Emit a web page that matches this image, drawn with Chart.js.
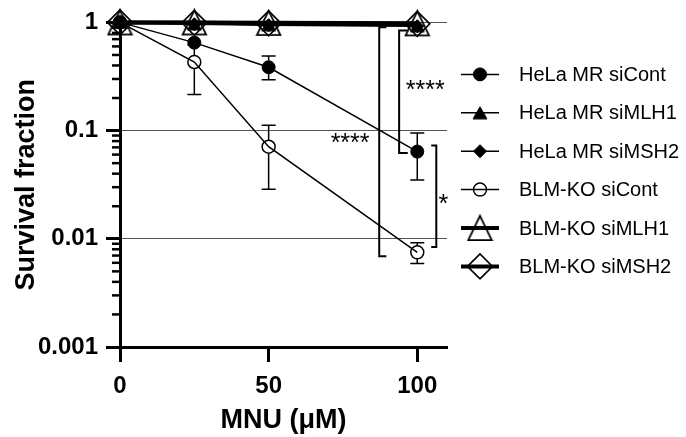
<!DOCTYPE html>
<html>
<head>
<meta charset="utf-8">
<script src="https://cdn.jsdelivr.net/npm/chart.js@4.4.0/dist/chart.umd.min.js"></script>
<style>
  html, body { margin: 0; padding: 0; background: #fff; }
</style>
</head>
<body>
<canvas id="chart" width="686" height="437"></canvas>
<script>
// MNU dose (uM)
var doses = [0, 25, 50, 100];

var seriesNames = ['HeLa MR siCont', 'HeLa MR siMLH1', 'HeLa MR siMSH2',
                   'BLM-KO siCont', 'BLM-KO siMLH1', 'BLM-KO siMSH2'];

// survival fraction
var helaCont = [1, 0.65, 0.385, 0.064];
var helaMLH1 = [1, 0.97, 0.95, 0.93];
var helaMSH2 = [1, 0.96, 0.94, 0.92];
var blmCont  = [1, 0.43, 0.071, 0.0075];
var blmMLH1  = [1, 1.0, 0.99, 0.98];
var blmMSH2  = [1, 0.99, 0.98, 0.97];

// error bars (upper / lower), null = no bar
var helaContHi = [null, 0.69, 0.49, 0.095];
var helaContLo = [null, 0.61, 0.295, 0.035];
var blmContHi  = [null, 0.62, 0.112, 0.0092];
var blmContLo  = [null, 0.216, 0.0287, 0.0059];

var xTicks = [0, 50, 100];
var yTicks = [0.001, 0.01, 0.1, 1];
var yTickLabels = ['0.001', '0.01', '0.1', '1'];
var yMinor = [2, 3, 4, 5, 6, 7, 8, 9];

// significance brackets, in data units (bar x, end x, top y, bottom y)
var brackets = [
  { x: 87.2, end: 89.6, top: 0.90, bottom: 0.0069 },
  { x: 93.9, end: 96.8, top: 0.84, bottom: 0.062 },
  { x: 106.4, end: 104.7, top: 0.073, bottom: 0.0084 }
];
var sigLabels = [
  { text: '****', x: 77.4, y: 0.0886 },
  { text: '****', x: 102.7, y: 0.27 },
  { text: '*', x: 108.8, y: 0.0242 }
];

var FONT = '"Liberation Sans", Arial, sans-serif';
Chart.defaults.font.family = FONT;
Chart.defaults.color = '#000';

// triangle marker centred on its box (like the original software)
function triSprite(w, h, fill, lw) {
  var c = document.createElement('canvas');
  c.width = Math.ceil(w + lw * 2);
  c.height = Math.ceil(h + lw * 2);
  var g = c.getContext('2d');
  g.beginPath();
  g.moveTo(c.width / 2, lw);
  g.lineTo(c.width - lw, c.height - lw);
  g.lineTo(lw, c.height - lw);
  g.closePath();
  if (fill) { g.fillStyle = '#000'; g.fill(); }
  g.lineWidth = lw;
  g.strokeStyle = '#000';
  g.stroke();
  return c;
}

function series(name, vals, style, radius, fill, lineW, pointW) {
  return {
    label: name,
    data: doses.map(function (d, i) { return { x: d, y: vals[i] }; }),
    borderColor: '#000',
    borderWidth: lineW,
    pointStyle: style,
    pointRadius: radius,
    pointBackgroundColor: fill ? '#000' : 'rgba(0,0,0,0)',
    pointBorderColor: '#000',
    pointBorderWidth: pointW,
    tension: 0,
    clip: false
  };
}

var datasets = [
  series(seriesNames[0], helaCont, 'circle', 6.5, true, 1.5, 1),
  series(seriesNames[1], helaMLH1, triSprite(14, 12, true, 1), 7, true, 1.5, 1),
  series(seriesNames[2], helaMSH2, 'rectRot', 6.5, true, 1.5, 1),
  series(seriesNames[3], blmCont, 'circle', 6.5, false, 1.5, 1.5),
  series(seriesNames[4], blmMLH1, triSprite(23, 24, false, 1.8), 12, false, 4, 1.8),
  series(seriesNames[5], blmMSH2, 'rectRot', 12.5, false, 4, 1.6)
];

var errorBars = [
  { ds: 0, hi: helaContHi, lo: helaContLo },
  { ds: 3, hi: blmContHi, lo: blmContLo }
];

var errorPlugin = {
  id: 'errors',
  beforeDatasetsDraw: function (chart) {
    var ctx = chart.ctx, xs = chart.scales.x, ys = chart.scales.y;
    ctx.save();
    ctx.strokeStyle = '#000';
    ctx.lineWidth = 1.5;
    errorBars.forEach(function (e) {
      var r = chart.data.datasets[e.ds].pointRadius;
      doses.forEach(function (d, i) {
        if (e.hi[i] == null) return;
        var px = xs.getPixelForValue(d);
        var py = ys.getPixelForValue(chart.data.datasets[e.ds].data[i].y);
        var pHi = ys.getPixelForValue(e.hi[i]);
        var pLo = ys.getPixelForValue(e.lo[i]);
        ctx.beginPath();
        if (pHi < py - r) { ctx.moveTo(px, pHi); ctx.lineTo(px, py - r); ctx.moveTo(px - 7, pHi); ctx.lineTo(px + 7, pHi); }
        if (pLo > py + r) { ctx.moveTo(px, py + r); ctx.lineTo(px, pLo); ctx.moveTo(px - 7, pLo); ctx.lineTo(px + 7, pLo); }
        ctx.stroke();
      });
    });
    ctx.restore();
  }
};

var decorPlugin = {
  id: 'decor',
  afterDraw: function (chart) {
    var ctx = chart.ctx, xs = chart.scales.x, ys = chart.scales.y, area = chart.chartArea;
    ctx.save();

    // minor log ticks
    ctx.strokeStyle = '#000';
    ctx.lineWidth = 2.5;
    yTicks.slice(0, -1).forEach(function (dec) {
      yMinor.forEach(function (m) {
        var py = ys.getPixelForValue(dec * m);
        ctx.beginPath();
        ctx.moveTo(area.left - 8, py);
        ctx.lineTo(area.left, py);
        ctx.stroke();
      });
    });

    // brackets
    ctx.lineWidth = 2;
    ctx.lineJoin = 'miter';
    brackets.forEach(function (b) {
      var x0 = xs.getPixelForValue(b.x), x1 = xs.getPixelForValue(b.end);
      var y0 = ys.getPixelForValue(b.top), y1 = ys.getPixelForValue(b.bottom);
      ctx.beginPath();
      ctx.moveTo(x1, y0);
      ctx.lineTo(x0, y0);
      ctx.lineTo(x0, y1);
      ctx.lineTo(x1, y1);
      ctx.stroke();
    });

    // asterisks
    var size = 25;
    ctx.fillStyle = '#000';
    ctx.font = size + 'px ' + FONT;
    ctx.textAlign = 'center';
    ctx.textBaseline = 'alphabetic';
    sigLabels.forEach(function (s) {
      ctx.fillText(s.text, xs.getPixelForValue(s.x), ys.getPixelForValue(s.y) + size * 0.57);
    });

    // legend
    var lx = area.right + 14, lw = 38, rowY = area.top + 52, step = 38.4;
    ctx.font = '20px ' + FONT;
    ctx.textAlign = 'left';
    ctx.textBaseline = 'middle';
    chart.data.datasets.forEach(function (ds, i) {
      var y = rowY + i * step;
      ctx.strokeStyle = '#000';
      ctx.lineWidth = ds.borderWidth;
      ctx.beginPath();
      ctx.moveTo(lx, y);
      ctx.lineTo(lx + lw, y);
      ctx.stroke();
      ctx.fillStyle = ds.pointBackgroundColor;
      ctx.lineWidth = ds.pointBorderWidth;
      Chart.helpers.drawPoint(ctx, {
        pointStyle: ds.pointStyle, radius: ds.pointRadius,
        borderWidth: ds.pointBorderWidth, rotation: 0
      }, lx + lw / 2, y);
      ctx.fillStyle = '#000';
      ctx.fillText(ds.label, lx + lw + 20, y + 1);
    });
    ctx.restore();
  }
};

new Chart(document.getElementById('chart'), {
  type: 'line',
  data: { datasets: datasets },
  plugins: [errorPlugin, decorPlugin],
  options: {
    responsive: false,
    animation: false,
    layout: { padding: { top: 22, right: 239, left: 0, bottom: 0 } },
    plugins: { legend: { display: false }, tooltip: { enabled: false } },
    scales: {
      x: {
        type: 'linear',
        min: 0,
        max: 110,
        afterBuildTicks: function (s) { s.ticks = xTicks.map(function (v) { return { value: v }; }); },
        afterFit: function (s) { s.height = 90; },
        grid: { drawOnChartArea: false, tickLength: 15, tickWidth: 3, tickColor: '#000' },
        border: { color: '#000', width: 3 },
        ticks: { color: '#000', autoSkip: false, maxRotation: 0, padding: 10,
                 font: { size: 24, weight: 'bold' } },
        title: { display: true, text: 'MNU (μM)', color: '#000', padding: { bottom: 0 },
                 font: { size: 27, weight: 'bold' } }
      },
      y: {
        type: 'logarithmic',
        min: 0.001,
        max: 1,
        afterBuildTicks: function (s) { s.ticks = yTicks.map(function (v) { return { value: v }; }); },
        afterFit: function (s) { s.width = 120; },
        grid: { color: '#555', lineWidth: 1, tickLength: 14, tickWidth: 3, tickColor: '#000' },
        border: { color: '#000', width: 3 },
        ticks: { color: '#000', padding: 8, autoSkip: false,
                 font: { size: 24, weight: 'bold' } ,
                 callback: function (v) { return yTickLabels[yTicks.indexOf(v)]; } },
        title: { display: true, text: 'Survival fraction', color: '#000', padding: { top: 10 },
                 font: { size: 27, weight: 'bold' } }
      }
    }
  }
});
</script>
</body>
</html>
